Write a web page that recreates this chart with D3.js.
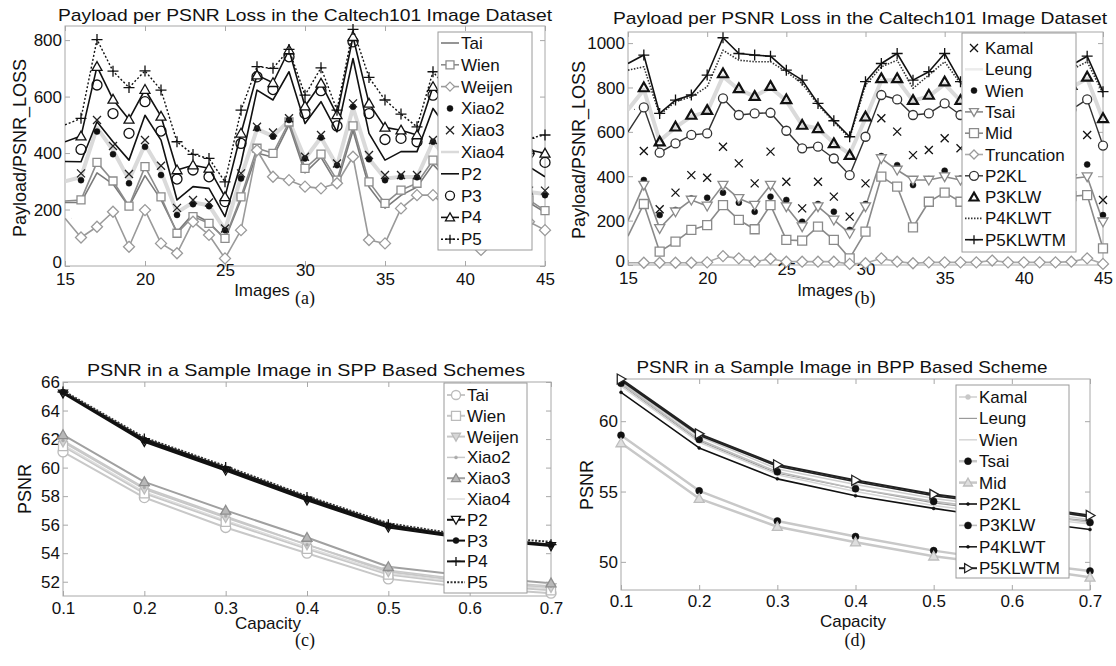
<!DOCTYPE html>
<html>
<head>
<meta charset="utf-8">
<script src="https://cdn.jsdelivr.net/npm/d3@7"></script>
<style>
  body { margin: 0; background: #fff; }
  text { font-family: "Liberation Sans", Arial, sans-serif; fill: #111; }
  .cap { font-family: "Liberation Serif", "Times New Roman", serif; }
</style>
</head>
<body>
<svg id="fig" width="1116" height="666"></svg>
<script>
// ---- x values ----
const images = [15,16,17,18,19,20,21,22,23,24,25,26,27,28,29,30,31,32,33,34,35,36,37,38,39,40,41,42,43,44,45];
const capacity = [0.1,0.2,0.3,0.4,0.5,0.6,0.7];

// ---- (a) payload per PSNR loss, SPP schemes ----
const aTai    = [225,225,330,290,210,320,235,120,185,155,95,235,400,385,500,330,385,290,480,280,205,250,280,360,300,250,230,230,220,225,190];
const aWien   = [230,234,367,301,212,352,245,116,175,151,98,245,417,399,510,346,396,304,496,298,222,269,293,375,310,260,240,250,240,234,196];
const aWeijen = [169,101,139,192,68,198,80,45,157,110,27,127,410,316,304,281,275,293,387,92,80,204,251,251,200,120,57,120,150,157,127];
const aXiao2  = [300,304,476,396,293,422,322,181,219,212,127,310,487,458,517,381,455,357,564,378,304,316,314,440,370,330,300,280,270,260,251];
const aXiao3  = [310,328,517,425,326,446,355,206,234,225,133,328,493,473,523,387,464,363,576,393,322,322,322,446,380,340,310,290,280,267,267];
const aXiao4  = [300,315,490,410,305,430,335,190,225,215,128,315,485,460,515,380,455,355,560,380,310,315,315,440,370,330,300,280,270,262,255];
const aP2     = [370,369,511,440,375,534,446,234,281,275,175,363,623,588,688,505,582,475,735,470,375,405,405,558,480,430,400,380,370,352,316];
const aP3     = [420,413,641,540,470,582,478,308,340,316,228,434,670,625,741,540,621,496,794,540,448,452,440,605,540,490,450,420,410,399,367];
const aP4     = [440,460,706,590,519,625,530,340,357,346,245,470,676,649,765,566,647,535,812,576,491,481,464,635,560,500,460,430,415,411,399];
const aP5     = [500,523,802,690,632,691,623,440,395,381,298,552,706,700,767,605,702,552,838,668,588,538,493,688,620,560,520,495,470,452,464];

// ---- (b) payload per PSNR loss, BPP schemes ----
const bKamal = [450,514,251,326,405,393,533,458,368,511,375,255,375,308,218,368,661,601,495,518,571,526,520,540,530,520,540,560,570,586,293];
const bLeung = [700,790,560,620,670,690,850,790,760,800,740,630,615,550,500,660,830,835,740,760,815,740,730,740,730,720,730,760,800,840,655];
const bWien  = [200,383,225,248,300,303,326,281,240,308,293,195,275,240,158,275,491,450,360,387,425,390,400,410,400,400,410,420,430,453,225];
const bTsai  = [200,360,165,240,293,266,360,300,270,360,263,173,263,203,143,263,480,428,383,383,398,383,385,390,385,390,390,385,390,398,195];
const bMid   = [130,275,60,105,158,180,270,203,161,270,113,110,173,113,30,150,398,353,170,285,326,285,290,300,300,310,300,300,310,315,75];
const bTrunc = [10,10,10,10,10,12,40,30,15,28,15,15,15,15,5,8,30,15,8,12,12,12,12,20,12,12,12,12,15,30,5];
const bP2KL  = [600,710,506,548,586,593,751,676,683,686,605,526,533,480,405,578,766,746,676,683,728,676,660,650,640,650,660,670,700,746,538];
const bP3KLW = [720,800,556,623,676,698,863,796,761,806,746,631,616,548,495,668,841,841,743,766,826,743,740,750,740,730,740,770,810,848,661];
const bP4KLWT = [878,893,676,736,758,803,968,923,916,916,871,818,721,646,571,811,893,923,796,856,916,818,800,790,810,830,850,870,880,916,773];
const bP5KLWTM = [908,946,683,743,766,856,1024,953,946,941,878,833,728,650,578,826,908,953,833,871,953,826,820,800,830,850,870,890,900,941,781];

// ---- (c) PSNR vs capacity, SPP schemes ----
const cTai    = [61.1,57.9,55.8,54.0,52.2,51.6,51.2];
const cWien   = [61.5,58.2,56.2,54.3,52.5,51.8,51.4];
const cWeijen = [61.8,58.5,56.5,54.6,52.7,52.0,51.6];
const cXiao2  = [61.9,58.6,56.6,54.6,52.8,52.1,51.7];
const cXiao3  = [62.3,59.0,57.0,55.1,53.05,52.4,51.9];
const cXiao4  = [61.6,58.3,56.3,54.4,52.6,51.9,51.5];
const cP2     = [65.2,61.8,59.8,57.7,55.8,55.0,54.5];
const cP3     = [65.3,61.9,59.9,57.8,55.9,55.1,54.6];
const cP4     = [65.3,62.0,60.0,57.9,56.0,55.1,54.6];
const cP5     = [65.4,62.1,60.1,58.0,56.1,55.2,54.8];

// ---- (d) PSNR vs capacity, BPP schemes ----
const dKamal   = [62.8,58.9,56.6,55.5,54.5,53.8,53.0];
const dLeung   = [62.6,58.6,56.3,55.2,54.2,53.5,52.9];
const dWien    = [62.5,58.5,56.2,55.0,54.0,53.3,52.7];
const dTsai    = [59.0,55.05,52.9,51.8,50.8,50.0,49.35];
const dMid     = [58.45,54.5,52.5,51.4,50.4,49.7,48.9];
const dP2KL    = [62.05,58.1,55.9,54.7,53.8,53.0,52.3];
const dP3KLW   = [62.7,58.7,56.4,55.2,54.3,53.6,52.8];
const dP4KLWT  = [62.9,59.0,56.8,55.7,54.7,54.0,53.2];
const dP5KLWTM = [63.0,59.1,56.9,55.8,54.8,54.1,53.3];

const imageTicks = [15,20,25,30,35,40,45];
const capTicks = [0.1,0.2,0.3,0.4,0.5,0.6,0.7];

const svg = d3.select("#fig");
svg.append("rect").attr("width",1116).attr("height",666).attr("fill","#fff");

// marker shapes, s = size in px
function markerPath(type, s) {
  const h = s / 2;
  switch (type) {
    case "o": return `M${-h},0a${h},${h} 0 1,0 ${2*h},0a${h},${h} 0 1,0 ${-2*h},0Z`;
    case "dot": return `M${-h},0a${h},${h} 0 1,0 ${2*h},0a${h},${h} 0 1,0 ${-2*h},0Z`;
    case "s": return `M${-h},${-h}H${h}V${h}H${-h}Z`;
    case "d": return `M0,${-h}L${h},0L0,${h}L${-h},0Z`;
    case "^": return `M0,${-h}L${h},${h*0.75}L${-h},${h*0.75}Z`;
    case "v": return `M0,${h}L${h},${-h*0.75}L${-h},${-h*0.75}Z`;
    case ">": return `M${h},0L${-h*0.75},${-h}L${-h*0.75},${h}Z`;
    case "+": return `M${-h},0H${h}M0,${-h}V${h}`;
    case "x": return `M${-h},${-h}L${h},${h}M${h},${-h}L${-h},${h}`;
  }
  return "";
}

function drawMarker(g, s, cx, cy) {
  const filled = s.m === "dot";
  g.append("path")
    .attr("transform", `translate(${cx},${cy})`)
    .attr("d", markerPath(s.m, s.ms))
    .attr("fill", filled ? s.mc : (s.mf || "none"))
    .attr("stroke", s.mc)
    .attr("stroke-width", filled ? 0.5 : (s.mw || 1.3));
}

const panels = [
  {
    box: [65, 26, 545, 266], xs: images, xDomain: [15, 45], yDomain: [0, 850],
    xTicks: imageTicks, yTicks: [0, 200, 400, 600, 800], xFmt: d3.format("d"), yFmt: d3.format("d"), raised: [25, 30],
    markerClipLeft: 6, tickY: 19,
    title: "Payload per PSNR Loss in the Caltech101 Image Dataset", titleX: 305, titleY: 21, titleW: 494,
    yLabel: "Payload/PSNR_LOSS", yLabelX: 26, yLabelY: 148,
    xLabel: "Images", xLabelX: 262, xLabelY: 296,
    caption: "(a)", capX: 305, capY: 304,
    legend: { x: 438, y: 32, w: 94, h: 218, first: 11, step: 21.8 },
    series: [
      { name: "Tai", v: aTai, stroke: "#7a7a7a", w: 1.6 },
      { name: "Wien", v: aWien, stroke: "#8c8c8c", w: 1.6, m: "s", mc: "#8c8c8c", ms: 8, mf: "#fff" },
      { name: "Weijen", v: aWeijen, stroke: "#9a9a9a", w: 1.6, m: "d", mc: "#9a9a9a", ms: 11, mf: "#fff" },
      { name: "Xiao2", v: aXiao2, m: "dot", mc: "#111", ms: 6 },
      { name: "Xiao3", v: aXiao3, m: "x", mc: "#222", ms: 8 },
      { name: "Xiao4", v: aXiao4, stroke: "#dadada", w: 4, under: true },
      { name: "P2", v: aP2, stroke: "#111", w: 1.6 },
      { name: "P3", v: aP3, m: "o", mc: "#111", ms: 10 },
      { name: "P4", v: aP4, stroke: "#111", w: 1.6, m: "^", mc: "#111", ms: 10, mf: "#fff" },
      { name: "P5", v: aP5, stroke: "#111", w: 1.4, dash: "2,2", m: "+", mc: "#111", ms: 11 }
    ]
  },
  {
    box: [628, 32, 1103, 265], xs: images, xDomain: [15, 45], yDomain: [0, 1050],
    xTicks: imageTicks, yTicks: [0, 200, 400, 600, 800, 1000], xFmt: d3.format("d"), yFmt: d3.format("d"), raised: [25, 30],
    markerClipLeft: 6, tickY: 19,
    title: "Payload per PSNR Loss in the Caltech101 Image Dataset", titleX: 860, titleY: 24, titleW: 494,
    yLabel: "Payload/PSNR_LOSS", yLabelX: 585, yLabelY: 150,
    xLabel: "Images", xLabelX: 825, xLabelY: 296,
    caption: "(b)", capX: 865, capY: 304,
    legend: { x: 962, y: 33, w: 114, h: 219, first: 15, step: 21.3 },
    series: [
      { name: "Kamal", v: bKamal, m: "x", mc: "#111", ms: 8 },
      { name: "Leung", v: bLeung, stroke: "#dadada", w: 4, under: true, legendStroke: "#ececec" },
      { name: "Wien", v: bWien, m: "dot", mc: "#111", ms: 6 },
      { name: "Tsai", v: bTsai, stroke: "#8a8a8a", w: 1.6, m: "v", mc: "#8a8a8a", ms: 10, mf: "#fff" },
      { name: "Mid", v: bMid, stroke: "#8a8a8a", w: 1.6, m: "s", mc: "#8a8a8a", ms: 9, mf: "#fff" },
      { name: "Truncation", v: bTrunc, stroke: "#aaa", w: 1.6, m: "d", mc: "#9a9a9a", ms: 11, mf: "#fff" },
      { name: "P2KL", v: bP2KL, stroke: "#333", w: 1.4, m: "o", mc: "#333", ms: 9, mf: "#fff" },
      { name: "P3KLW", v: bP3KLW, m: "^", mc: "#111", ms: 10, mw: 2.2 },
      { name: "P4KLWT", v: bP4KLWT, stroke: "#333", w: 1.6, dash: "1.5,1.5" },
      { name: "P5KLWTM", v: bP5KLWTM, stroke: "#111", w: 1.6, m: "+", mc: "#111", ms: 11 }
    ]
  },
  {
    box: [63, 382, 551, 596], xs: capacity, xDomain: [0.1, 0.7], yDomain: [51, 66],
    xTicks: capTicks, yTicks: [52, 54, 56, 58, 60, 62, 64, 66], xFmt: d3.format(".1f"), yFmt: d3.format("d"), raised: [],
    markerClipLeft: -8, tickY: 18,
    title: "PSNR in a Sample Image in SPP Based Schemes", titleX: 306, titleY: 376, titleW: 438,
    yLabel: "PSNR", yLabelX: 31, yLabelY: 489,
    xLabel: "Capacity", xLabelX: 268, xLabelY: 629,
    caption: "(c)", capX: 305, capY: 646,
    legend: { x: 444, y: 383, w: 83, h: 210, first: 12, step: 20.8 },
    series: [
      { name: "Tai", v: cTai, stroke: "#c8c8c8", w: 2, m: "o", mc: "#bbb", ms: 10, mf: "#fff" },
      { name: "Wien", v: cWien, stroke: "#c8c8c8", w: 2, m: "s", mc: "#bbb", ms: 9, mf: "#fff" },
      { name: "Weijen", v: cWeijen, stroke: "#c8c8c8", w: 2, m: "v", mc: "#bbb", ms: 10, mf: "#d6d6d6" },
      { name: "Xiao2", v: cXiao2, stroke: "#c8c8c8", w: 1.5, m: "dot", mc: "#aaa", ms: 3 },
      { name: "Xiao3", v: cXiao3, stroke: "#a0a0a0", w: 2, m: "^", mc: "#8f8f8f", ms: 10, mf: "#b8b8b8" },
      { name: "Xiao4", v: cXiao4, stroke: "#dcdcdc", w: 1.5 },
      { name: "P2", v: cP2, stroke: "#111", w: 2, m: "v", mc: "#111", ms: 9, mf: "#fff" },
      { name: "P3", v: cP3, stroke: "#111", w: 2, m: "dot", mc: "#111", ms: 6 },
      { name: "P4", v: cP4, stroke: "#111", w: 2, m: "+", mc: "#111", ms: 11 },
      { name: "P5", v: cP5, stroke: "#333", w: 2, dash: "2,1.5" }
    ]
  },
  {
    box: [621, 379, 1090, 590], xs: capacity, xDomain: [0.1, 0.7], yDomain: [48, 63],
    xTicks: capTicks, yTicks: [50, 55, 60], xFmt: d3.format(".1f"), yFmt: d3.format("d"), raised: [],
    markerClipLeft: -8, tickY: 17,
    title: "PSNR in a Sample Image in BPP Based Scheme", titleX: 842, titleY: 373, titleW: 411,
    yLabel: "PSNR", yLabelX: 593, yLabelY: 485,
    xLabel: "Capacity", xLabelX: 853, xLabelY: 627,
    caption: "(d)", capX: 855, capY: 646,
    legend: { x: 956, y: 385, w: 113, h: 193, first: 12, step: 21.4 },
    series: [
      { name: "Kamal", v: dKamal, stroke: "#cfcfcf", w: 1.5, m: "dot", mc: "#c8c8c8", ms: 5 },
      { name: "Leung", v: dLeung, stroke: "#9a9a9a", w: 1.2 },
      { name: "Wien", v: dWien, stroke: "#d6d6d6", w: 1.5 },
      { name: "Tsai", v: dTsai, stroke: "#c8c8c8", w: 2.5, m: "dot", mc: "#111", ms: 7 },
      { name: "Mid", v: dMid, stroke: "#c8c8c8", w: 2.5, m: "^", mc: "#bdbdbd", ms: 10, mf: "#dedede" },
      { name: "P2KL", v: dP2KL, stroke: "#111", w: 1.6, m: "dot", mc: "#111", ms: 3 },
      { name: "P3KLW", v: dP3KLW, stroke: "#bdbdbd", w: 1.6, m: "dot", mc: "#111", ms: 7 },
      { name: "P4KLWT", v: dP4KLWT, stroke: "#222", w: 1.6, m: "dot", mc: "#111", ms: 3 },
      { name: "P5KLWTM", v: dP5KLWTM, stroke: "#222", w: 2, m: ">", mc: "#222", ms: 10, mf: "#fff" }
    ]
  }
];

panels.forEach((p, pi) => {
  const [x0, y0, x1, y1] = p.box;
  const x = d3.scaleLinear().domain(p.xDomain).range([x0, x1]);
  const y = d3.scaleLinear().domain(p.yDomain).range([y1, y0]);
  const g = svg.append("g");

  g.append("rect")
    .attr("x", x0).attr("y", y0)
    .attr("width", x1 - x0).attr("height", y1 - y0)
    .attr("fill", "#fff").attr("stroke", "#a8a8a8").attr("stroke-width", 1);

  // axes with inward ticks on all four sides
  const axB = g.append("g").attr("transform", `translate(0,${y1})`)
    .call(d3.axisBottom(x).tickValues(p.xTicks).tickFormat(p.xFmt).tickSize(-5).tickPadding(3));
  axB.selectAll("text")
    .attr("y", d => p.raised.includes(d) ? 10 : p.tickY).attr("dy", 0)
    .attr("font-size", 17);
  const axT = g.append("g").attr("transform", `translate(0,${y0})`)
    .call(d3.axisTop(x).tickValues(p.xTicks).tickSize(-5).tickFormat(""));
  const axL = g.append("g").attr("transform", `translate(${x0},0)`)
    .call(d3.axisLeft(y).tickValues(p.yTicks).tickFormat(p.yFmt).tickSize(-5).tickPadding(3));
  // the zero label sits a little higher so it only touches the first x label
  axL.selectAll("text").attr("font-size", 17).attr("dy", d => d === 0 ? "0.1em" : "0.34em");
  const axR = g.append("g").attr("transform", `translate(${x1},0)`)
    .call(d3.axisRight(y).tickValues(p.yTicks).tickSize(-5).tickFormat(""));
  [axB, axT, axL, axR].forEach(a => {
    a.select(".domain").remove();
    a.selectAll("line").attr("stroke", "#a8a8a8");
  });

  // clip
  const clipId = "clip" + pi, mclipId = "mclip" + pi;
  const defs = g.append("defs");
  defs.append("clipPath").attr("id", clipId).append("rect")
    .attr("x", x0).attr("y", y0).attr("width", x1 - x0).attr("height", y1 - y0);
  defs.append("clipPath").attr("id", mclipId).append("rect")
    .attr("x", x0 + p.markerClipLeft).attr("y", y0 - 10)
    .attr("width", x1 - x0 - p.markerClipLeft + 10).attr("height", y1 - y0 + 20);

  const line = d3.line().x((d, i) => x(p.xs[i])).y(d => y(d));
  const gl = g.append("g").attr("clip-path", `url(#${clipId})`);
  const ordered = p.series.filter(s => s.under).concat(p.series.filter(s => !s.under));
  ordered.filter(s => s.stroke).forEach(s => {
    gl.append("path").datum(s.v)
      .attr("d", line)
      .attr("fill", "none")
      .attr("stroke", s.stroke)
      .attr("stroke-width", s.w)
      .attr("stroke-dasharray", s.dash || null)
      .attr("stroke-linejoin", "round");
  });
  const gm = g.append("g").attr("clip-path", `url(#${mclipId})`);
  p.series.filter(s => s.m).forEach(s => {
    s.v.forEach((v, i) => drawMarker(gm, s, x(p.xs[i]), y(v)));
  });

  // legend
  const L = p.legend;
  const lg = g.append("g");
  lg.append("rect").attr("x", L.x).attr("y", L.y).attr("width", L.w).attr("height", L.h)
    .attr("fill", "#fff").attr("stroke", "#9a9a9a");
  p.series.forEach((s, i) => {
    const cy = L.y + L.first + i * L.step;
    if (s.stroke) {
      lg.append("line").attr("x1", L.x + 3).attr("x2", L.x + 21).attr("y1", cy).attr("y2", cy)
        .attr("stroke", s.legendStroke || s.stroke).attr("stroke-width", Math.min(s.w, 2.5))
        .attr("stroke-dasharray", s.dash || null);
    }
    if (s.m) drawMarker(lg, Object.assign({}, s, { ms: Math.min(s.ms, 9) }), L.x + 12, cy);
    lg.append("text").attr("x", L.x + 23).attr("y", cy + 6).attr("font-size", 17).text(s.name);
  });

  // texts
  g.append("text").attr("x", p.titleX).attr("y", p.titleY).attr("text-anchor", "middle")
    .attr("font-size", 17).attr("textLength", p.titleW).attr("lengthAdjust", "spacingAndGlyphs")
    .text(p.title);
  g.append("text").attr("transform", `translate(${p.yLabelX},${p.yLabelY}) rotate(-90)`)
    .attr("text-anchor", "middle").attr("font-size", 18).text(p.yLabel);
  g.append("text").attr("x", p.xLabelX).attr("y", p.xLabelY).attr("text-anchor", "middle")
    .attr("font-size", 17).text(p.xLabel);
  g.append("text").attr("class", "cap").attr("x", p.capX).attr("y", p.capY)
    .attr("text-anchor", "middle").attr("font-size", 18).text(p.caption);
});
</script>
</body>
</html>
